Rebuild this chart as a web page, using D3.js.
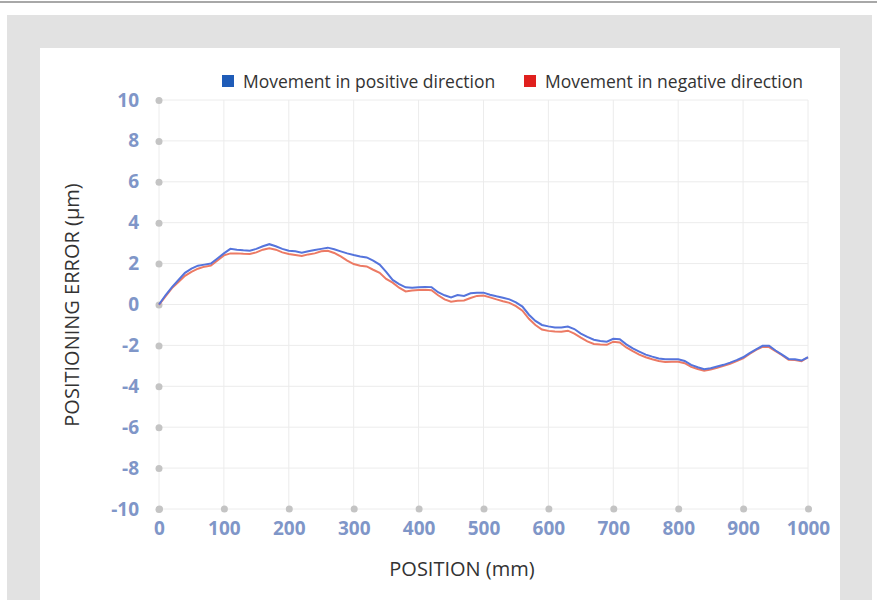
<!DOCTYPE html>
<html>
<head>
<meta charset="utf-8">
<script src="https://cdn.jsdelivr.net/npm/d3@7"></script>
<style>
  body { margin: 0; background: #fff; }
  svg { display: block; font-family: "Open Sans", sans-serif; }
</style>
</head>
<body>
<svg id="chart" width="877" height="600"></svg>
<script>
// position along the axis (mm)
var positions = [0, 10, 20, 30, 40, 50, 60, 70, 80, 90, 100, 110, 120, 130, 140, 150, 160, 170, 180, 190,
  200, 210, 220, 230, 240, 250, 260, 270, 280, 290, 300, 310, 320, 330, 340, 350, 360, 370, 380, 390,
  400, 410, 420, 430, 440, 450, 460, 470, 480, 490, 500, 510, 520, 530, 540, 550, 560, 570, 580, 590,
  600, 610, 620, 630, 640, 650, 660, 670, 680, 690, 700, 710, 720, 730, 740, 750, 760, 770, 780, 790,
  800, 810, 820, 830, 840, 850, 860, 870, 880, 890, 900, 910, 920, 930, 940, 950, 960, 970, 980, 990, 1000];

// positioning error (um), movement in positive direction
var positiveErr = [0, 0.45, 0.85, 1.2, 1.55, 1.75, 1.9, 1.95, 2.0, 2.25, 2.5, 2.72, 2.68, 2.65, 2.63, 2.72, 2.85, 2.95, 2.85, 2.72,
  2.63, 2.6, 2.53, 2.6, 2.66, 2.72, 2.78, 2.7, 2.6, 2.5, 2.42, 2.35, 2.3, 2.15, 1.95, 1.6, 1.2, 1.0, 0.84, 0.82,
  0.84, 0.86, 0.85, 0.6, 0.45, 0.35, 0.46, 0.42, 0.55, 0.57, 0.58, 0.48, 0.4, 0.33, 0.25, 0.1, -0.1, -0.5, -0.8, -1.0,
  -1.07, -1.12, -1.13, -1.08, -1.2, -1.42, -1.58, -1.72, -1.78, -1.82, -1.68, -1.7, -1.95, -2.15, -2.3, -2.45, -2.55, -2.64, -2.68, -2.68,
  -2.68, -2.76, -2.95, -3.07, -3.17, -3.12, -3.03, -2.95, -2.84, -2.72, -2.58, -2.38, -2.2, -2.02, -2.02, -2.25, -2.45, -2.66, -2.68, -2.74, -2.58];

// movement in negative direction
var negativeErr = [-0.02, 0.4, 0.8, 1.1, 1.4, 1.6, 1.75, 1.85, 1.9, 2.15, 2.4, 2.5, 2.5, 2.48, 2.47, 2.55, 2.68, 2.75, 2.68, 2.55,
  2.47, 2.42, 2.37, 2.45, 2.5, 2.6, 2.63, 2.52, 2.35, 2.15, 1.98, 1.9, 1.86, 1.7, 1.55, 1.25, 1.07, 0.82, 0.64, 0.68,
  0.71, 0.72, 0.7, 0.45, 0.25, 0.14, 0.18, 0.2, 0.32, 0.42, 0.44, 0.35, 0.25, 0.16, 0.08, -0.08, -0.3, -0.7, -1.0, -1.22,
  -1.29, -1.32, -1.33, -1.28, -1.42, -1.62, -1.8, -1.93, -1.96, -1.97, -1.82, -1.86, -2.1, -2.28, -2.45, -2.58, -2.68, -2.76, -2.81, -2.8,
  -2.8, -2.87, -3.05, -3.15, -3.24, -3.18, -3.1, -3.0, -2.9, -2.77, -2.63, -2.42, -2.22, -2.07, -2.08, -2.28, -2.48, -2.7, -2.71, -2.77, -2.58];

var xTicks = [0, 100, 200, 300, 400, 500, 600, 700, 800, 900, 1000];
var yTicks = [-10, -8, -6, -4, -2, 0, 2, 4, 6, 8, 10];
var seriesNames = ["Movement in positive direction", "Movement in negative direction"];

var svg = d3.select("#chart");

// page frame
svg.append("rect").attr("x", 0).attr("y", 1).attr("width", 877).attr("height", 2).attr("fill", "#a8a8a8");
svg.append("rect").attr("x", 7).attr("y", 15).attr("width", 865).attr("height", 585).attr("fill", "#e2e2e2");
svg.append("rect").attr("x", 40).attr("y", 48).attr("width", 800).attr("height", 552).attr("fill", "#fff");

var margin = { top: 100, left: 159 },
    width = 649,
    height = 409;

var x = d3.scaleLinear().domain([0, 1000]).range([0, width]),
    y = d3.scaleLinear().domain([-10, 10]).range([height, 0]);

var g = svg.append("g").attr("transform", "translate(" + margin.left + "," + margin.top + ")");

// grid
g.append("g").selectAll("line").data(xTicks).enter().append("line")
    .attr("x1", function (d) { return x(d); }).attr("x2", function (d) { return x(d); })
    .attr("y1", 0).attr("y2", height)
    .attr("stroke", "#ececec").attr("stroke-width", 1);
g.append("g").selectAll("line").data(yTicks).enter().append("line")
    .attr("x1", 0).attr("x2", width)
    .attr("y1", function (d) { return y(d); }).attr("y2", function (d) { return y(d); })
    .attr("stroke", "#ececec").attr("stroke-width", 1);

// axes: dots instead of tick marks
var plain = function (d) { return String(d); };
var yAxis = d3.axisLeft(y).tickValues(yTicks).tickFormat(plain).tickSize(0).tickPadding(20);
var xAxis = d3.axisBottom(x).tickValues(xTicks).tickFormat(plain).tickSize(0).tickPadding(13);

var gy = g.append("g").call(yAxis);
var gx = g.append("g").attr("transform", "translate(0," + height + ")").call(xAxis);

[gx, gy].forEach(function (a) {
    a.select(".domain").remove();
    a.selectAll(".tick text")
        .attr("fill", "#7f96c8")
        .style("font-size", "19px")
        .style("font-weight", "bold")
        .style("font-family", "'Open Sans', sans-serif");
    a.selectAll(".tick").append("circle").attr("r", 3.5).attr("fill", "#c4c4c4");
});

// lines
var line = d3.line()
    .x(function (d, i) { return x(positions[i]); })
    .y(function (d) { return y(d); });

g.append("path").datum(negativeErr)
    .attr("fill", "none").attr("stroke", "#ec7a64").attr("stroke-width", 2)
    .attr("d", line);
g.append("path").datum(positiveErr)
    .attr("fill", "none").attr("stroke", "#5574dc").attr("stroke-width", 2)
    .attr("d", line);

// axis titles
svg.append("text")
    .attr("transform", "translate(79,305) rotate(-90)")
    .attr("text-anchor", "middle")
    .attr("fill", "#333").style("font-size", "20px")
    .text("POSITIONING ERROR (\u00b5m)");
svg.append("text")
    .attr("x", 462).attr("y", 576)
    .attr("text-anchor", "middle")
    .attr("fill", "#333").style("font-size", "20px")
    .text("POSITION (mm)");

// legend
var legendX = [222, 524], legendColors = ["#1f5cb8", "#e0201e"];
var legend = svg.append("g").selectAll("g").data(seriesNames).enter().append("g")
    .attr("transform", function (d, i) { return "translate(" + legendX[i] + ",75)"; });
legend.append("rect").attr("width", 12).attr("height", 12)
    .attr("fill", function (d, i) { return legendColors[i]; });
legend.append("text").attr("x", 21).attr("y", 13)
    .attr("fill", "#333").style("font-size", "17.5px")
    .text(function (d) { return d; });
</script>
</body>
</html>
